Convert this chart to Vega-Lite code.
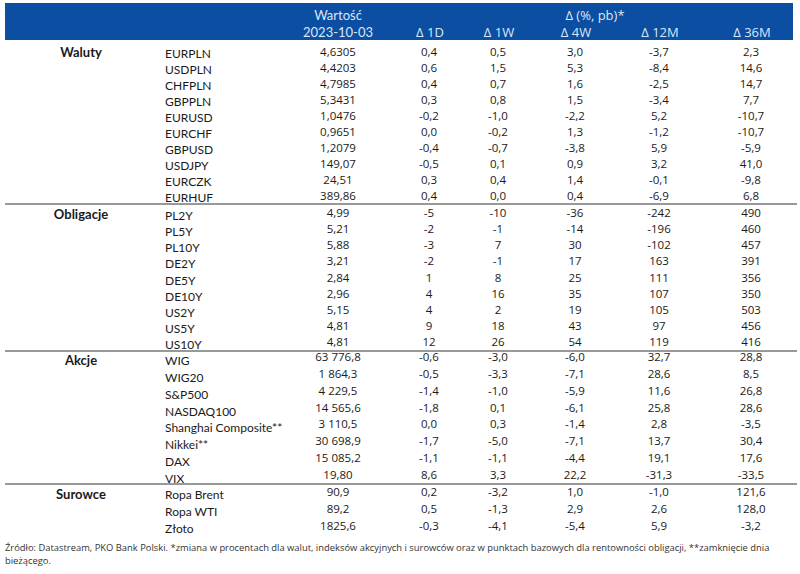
{
  "$schema": "https://vega.github.io/schema/vega-lite/v6.json",
  "width": 800,
  "height": 574,
  "autosize": {"type": "none"},
  "padding": 0,
  "background": "white",
  "config": {
    "view": {"stroke": null},
    "text": {"font": "Open Sans", "fontSize": 11.5, "color": "#1a1a1a", "baseline": "middle"}
  },
  "datasets": {
    "rows": [
      {"g": "Waluty", "name": "EURPLN", "v": "4,6305", "d1": "0,4", "d1w": "0,5", "d4w": "3,0", "d12": "-3,7", "d36": "2,3"},
      {"g": "Waluty", "name": "USDPLN", "v": "4,4203", "d1": "0,6", "d1w": "1,5", "d4w": "5,3", "d12": "-8,4", "d36": "14,6"},
      {"g": "Waluty", "name": "CHFPLN", "v": "4,7985", "d1": "0,4", "d1w": "0,7", "d4w": "1,6", "d12": "-2,5", "d36": "14,7"},
      {"g": "Waluty", "name": "GBPPLN", "v": "5,3431", "d1": "0,3", "d1w": "0,8", "d4w": "1,5", "d12": "-3,4", "d36": "7,7"},
      {"g": "Waluty", "name": "EURUSD", "v": "1,0476", "d1": "-0,2", "d1w": "-1,0", "d4w": "-2,2", "d12": "5,2", "d36": "-10,7"},
      {"g": "Waluty", "name": "EURCHF", "v": "0,9651", "d1": "0,0", "d1w": "-0,2", "d4w": "1,3", "d12": "-1,2", "d36": "-10,7"},
      {"g": "Waluty", "name": "GBPUSD", "v": "1,2079", "d1": "-0,4", "d1w": "-0,7", "d4w": "-3,8", "d12": "5,9", "d36": "-5,9"},
      {"g": "Waluty", "name": "USDJPY", "v": "149,07", "d1": "-0,5", "d1w": "0,1", "d4w": "0,9", "d12": "3,2", "d36": "41,0"},
      {"g": "Waluty", "name": "EURCZK", "v": "24,51", "d1": "0,3", "d1w": "0,4", "d4w": "1,4", "d12": "-0,1", "d36": "-9,8"},
      {"g": "Waluty", "name": "EURHUF", "v": "389,86", "d1": "0,4", "d1w": "0,0", "d4w": "0,4", "d12": "-6,9", "d36": "6,8"},
      {"g": "Obligacje", "name": "PL2Y", "v": "4,99", "d1": "-5", "d1w": "-10", "d4w": "-36", "d12": "-242", "d36": "490"},
      {"g": "Obligacje", "name": "PL5Y", "v": "5,21", "d1": "-2", "d1w": "-1", "d4w": "-14", "d12": "-196", "d36": "460"},
      {"g": "Obligacje", "name": "PL10Y", "v": "5,88", "d1": "-3", "d1w": "7", "d4w": "30", "d12": "-102", "d36": "457"},
      {"g": "Obligacje", "name": "DE2Y", "v": "3,21", "d1": "-2", "d1w": "-1", "d4w": "17", "d12": "163", "d36": "391"},
      {"g": "Obligacje", "name": "DE5Y", "v": "2,84", "d1": "1", "d1w": "8", "d4w": "25", "d12": "111", "d36": "356"},
      {"g": "Obligacje", "name": "DE10Y", "v": "2,96", "d1": "4", "d1w": "16", "d4w": "35", "d12": "107", "d36": "350"},
      {"g": "Obligacje", "name": "US2Y", "v": "5,15", "d1": "4", "d1w": "2", "d4w": "19", "d12": "105", "d36": "503"},
      {"g": "Obligacje", "name": "US5Y", "v": "4,81", "d1": "9", "d1w": "18", "d4w": "43", "d12": "97", "d36": "456"},
      {"g": "Obligacje", "name": "US10Y", "v": "4,81", "d1": "12", "d1w": "26", "d4w": "54", "d12": "119", "d36": "416"},
      {"g": "Akcje", "name": "WIG", "v": "63 776,8", "d1": "-0,6", "d1w": "-3,0", "d4w": "-6,0", "d12": "32,7", "d36": "28,8"},
      {"g": "Akcje", "name": "WIG20", "v": "1 864,3", "d1": "-0,5", "d1w": "-3,3", "d4w": "-7,1", "d12": "28,6", "d36": "8,5"},
      {"g": "Akcje", "name": "S&P500", "v": "4 229,5", "d1": "-1,4", "d1w": "-1,0", "d4w": "-5,9", "d12": "11,6", "d36": "26,8"},
      {"g": "Akcje", "name": "NASDAQ100", "v": "14 565,6", "d1": "-1,8", "d1w": "0,1", "d4w": "-6,1", "d12": "25,8", "d36": "28,6"},
      {"g": "Akcje", "name": "Shanghai Composite**", "v": "3 110,5", "d1": "0,0", "d1w": "0,3", "d4w": "-1,4", "d12": "2,8", "d36": "-3,5"},
      {"g": "Akcje", "name": "Nikkei**", "v": "30 698,9", "d1": "-1,7", "d1w": "-5,0", "d4w": "-7,1", "d12": "13,7", "d36": "30,4"},
      {"g": "Akcje", "name": "DAX", "v": "15 085,2", "d1": "-1,1", "d1w": "-1,1", "d4w": "-4,4", "d12": "19,1", "d36": "17,6"},
      {"g": "Akcje", "name": "VIX", "v": "19,80", "d1": "8,6", "d1w": "3,3", "d4w": "22,2", "d12": "-31,3", "d36": "-33,5"},
      {"g": "Surowce", "name": "Ropa Brent", "v": "90,9", "d1": "0,2", "d1w": "-3,2", "d4w": "1,0", "d12": "-1,0", "d36": "121,6"},
      {"g": "Surowce", "name": "Ropa WTI", "v": "89,2", "d1": "0,5", "d1w": "-1,3", "d4w": "2,9", "d12": "2,6", "d36": "128,0"},
      {"g": "Surowce", "name": "Złoto", "v": "1825,6", "d1": "-0,3", "d1w": "-4,1", "d4w": "-5,4", "d12": "5,9", "d36": "-3,2"}
    ]
  },
  "data": {"name": "rows"},
  "layer": [
    {
      "data": {"values": [{}]},
      "encoding": {
        "y": {"datum": 16, "type": "quantitative", "axis": null, "scale": {"domain": [0, 574], "range": [0, 574], "nice": false, "zero": false}}
      },
      "layer": [
        {"mark": {"type": "rect", "color": "#0b4ea2"},
         "encoding": {
           "x": {"datum": 5, "type": "quantitative", "axis": null, "scale": {"domain": [0, 800], "nice": false, "zero": false}},
           "x2": {"datum": 793},
           "y": {"datum": 3, "type": "quantitative"},
           "y2": {"datum": 40}}},
        {"mark": {"type": "text", "color": "#dbe7f5", "fontSize": 13, "font": "Lato"},
         "encoding": {"text": {"value": "Wartość"}, "x": {"datum": 338, "type": "quantitative"}, "y": {"datum": 16, "type": "quantitative"}}},
        {"mark": {"type": "text", "color": "#dbe7f5", "fontSize": 13, "font": "Lato"},
         "encoding": {"text": {"value": "2023-10-03"}, "x": {"datum": 338, "type": "quantitative"}, "y": {"datum": 33, "type": "quantitative"}}},
        {"mark": {"type": "text", "color": "#dbe7f5", "fontSize": 13},
         "encoding": {"text": {"value": "Δ (%, pb)*"}, "x": {"datum": 595, "type": "quantitative"}, "y": {"datum": 16, "type": "quantitative"}}},
        {"mark": {"type": "text", "color": "#dbe7f5", "fontSize": 13},
         "encoding": {"text": {"value": "Δ 1D"}, "x": {"datum": 430, "type": "quantitative"}, "y": {"datum": 33, "type": "quantitative"}}},
        {"mark": {"type": "text", "color": "#dbe7f5", "fontSize": 13},
         "encoding": {"text": {"value": "Δ 1W"}, "x": {"datum": 499, "type": "quantitative"}, "y": {"datum": 33, "type": "quantitative"}}},
        {"mark": {"type": "text", "color": "#dbe7f5", "fontSize": 13},
         "encoding": {"text": {"value": "Δ 4W"}, "x": {"datum": 576, "type": "quantitative"}, "y": {"datum": 33, "type": "quantitative"}}},
        {"mark": {"type": "text", "color": "#dbe7f5", "fontSize": 13},
         "encoding": {"text": {"value": "Δ 12M"}, "x": {"datum": 660, "type": "quantitative"}, "y": {"datum": 33, "type": "quantitative"}}},
        {"mark": {"type": "text", "color": "#dbe7f5", "fontSize": 13},
         "encoding": {"text": {"value": "Δ 36M"}, "x": {"datum": 752, "type": "quantitative"}, "y": {"datum": 33, "type": "quantitative"}}},
        {"mark": {"type": "text", "color": "#333333", "fontSize": 9.4, "align": "left", "lineHeight": 13},
         "encoding": {"text": {"value": ["Źródło: Datastream, PKO Bank Polski. *zmiana w procentach dla walut, indeksów akcyjnych i surowców oraz w punktach bazowych dla rentowności obligacji, **zamknięcie dnia", "bieżącego."]}, "x": {"datum": 5, "type": "quantitative"}, "y": {"datum": 548, "type": "quantitative"}}}
      ]
    },
    {
      "transform": [{"filter": {"field": "g", "equal": "Waluty"}}],
      "encoding": {"y": {"field": "name", "type": "nominal", "sort": null, "axis": null, "scale": {"type": "point", "range": [53, 197], "padding": 0}}},
      "layer": [
        {"mark": {"type": "text", "font": "Lato", "fontWeight": "bold", "fontSize": 13, "dy": 0},
         "encoding": {"text": {"condition": {"test": "datum.name === 'EURPLN'", "field": "g"}, "value": ""}, "x": {"datum": 81, "type": "quantitative"}}},
        {"mark": {"type": "text", "align": "left", "dy": 1, "font": "Lato", "fontSize": 12},
         "encoding": {"text": {"field": "name"}, "x": {"datum": 165, "type": "quantitative"}}},
        {"mark": {"type": "text"}, "encoding": {"text": {"field": "v"}, "x": {"datum": 338, "type": "quantitative"}}},
        {"mark": {"type": "text"}, "encoding": {"text": {"field": "d1"}, "x": {"datum": 429, "type": "quantitative"}}},
        {"mark": {"type": "text"}, "encoding": {"text": {"field": "d1w"}, "x": {"datum": 498, "type": "quantitative"}}},
        {"mark": {"type": "text"}, "encoding": {"text": {"field": "d4w"}, "x": {"datum": 575, "type": "quantitative"}}},
        {"mark": {"type": "text"}, "encoding": {"text": {"field": "d12"}, "x": {"datum": 659, "type": "quantitative"}}},
        {"mark": {"type": "text"}, "encoding": {"text": {"field": "d36"}, "x": {"datum": 751, "type": "quantitative"}}}
      ]
    },
    {
      "transform": [{"filter": {"field": "g", "equal": "Obligacje"}}],
      "encoding": {"y": {"field": "name", "type": "nominal", "sort": null, "axis": null, "scale": {"type": "point", "range": [214, 343], "padding": 0}}},
      "layer": [
        {"mark": {"type": "rule", "color": "#333333", "strokeWidth": 1, "yOffset": -10},
         "encoding": {"x": {"datum": 5, "type": "quantitative"}, "x2": {"datum": 797}, "strokeOpacity": {"condition": {"test": "datum.name === 'PL2Y'", "value": 1}, "value": 0}}},
        {"mark": {"type": "text", "font": "Lato", "fontWeight": "bold", "fontSize": 13, "dy": 1},
         "encoding": {"text": {"condition": {"test": "datum.name === 'PL2Y'", "field": "g"}, "value": ""}, "x": {"datum": 81, "type": "quantitative"}}},
        {"mark": {"type": "text", "align": "left", "dy": 2, "font": "Lato", "fontSize": 12},
         "encoding": {"text": {"field": "name"}, "x": {"datum": 165, "type": "quantitative"}}},
        {"mark": {"type": "text"}, "encoding": {"text": {"field": "v"}, "x": {"datum": 338, "type": "quantitative"}}},
        {"mark": {"type": "text"}, "encoding": {"text": {"field": "d1"}, "x": {"datum": 429, "type": "quantitative"}}},
        {"mark": {"type": "text"}, "encoding": {"text": {"field": "d1w"}, "x": {"datum": 498, "type": "quantitative"}}},
        {"mark": {"type": "text"}, "encoding": {"text": {"field": "d4w"}, "x": {"datum": 575, "type": "quantitative"}}},
        {"mark": {"type": "text"}, "encoding": {"text": {"field": "d12"}, "x": {"datum": 659, "type": "quantitative"}}},
        {"mark": {"type": "text"}, "encoding": {"text": {"field": "d36"}, "x": {"datum": 751, "type": "quantitative"}}}
      ]
    },
    {
      "transform": [{"filter": {"field": "g", "equal": "Akcje"}}],
      "encoding": {"y": {"field": "name", "type": "nominal", "sort": null, "axis": null, "scale": {"type": "point", "range": [358, 476], "padding": 0}}},
      "layer": [
        {"mark": {"type": "rule", "color": "#333333", "strokeWidth": 1, "yOffset": -7},
         "encoding": {"x": {"datum": 5, "type": "quantitative"}, "x2": {"datum": 797}, "strokeOpacity": {"condition": {"test": "datum.name === 'WIG'", "value": 1}, "value": 0}}},
        {"mark": {"type": "text", "font": "Lato", "fontWeight": "bold", "fontSize": 13, "dy": 3},
         "encoding": {"text": {"condition": {"test": "datum.name === 'WIG'", "field": "g"}, "value": ""}, "x": {"datum": 81, "type": "quantitative"}}},
        {"mark": {"type": "text", "align": "left", "dy": 3, "font": "Lato", "fontSize": 12},
         "encoding": {"text": {"field": "name"}, "x": {"datum": 165, "type": "quantitative"}}},
        {"mark": {"type": "text"}, "encoding": {"text": {"field": "v"}, "x": {"datum": 338, "type": "quantitative"}}},
        {"mark": {"type": "text"}, "encoding": {"text": {"field": "d1"}, "x": {"datum": 429, "type": "quantitative"}}},
        {"mark": {"type": "text"}, "encoding": {"text": {"field": "d1w"}, "x": {"datum": 498, "type": "quantitative"}}},
        {"mark": {"type": "text"}, "encoding": {"text": {"field": "d4w"}, "x": {"datum": 575, "type": "quantitative"}}},
        {"mark": {"type": "text"}, "encoding": {"text": {"field": "d12"}, "x": {"datum": 659, "type": "quantitative"}}},
        {"mark": {"type": "text"}, "encoding": {"text": {"field": "d36"}, "x": {"datum": 751, "type": "quantitative"}}}
      ]
    },
    {
      "transform": [{"filter": {"field": "g", "equal": "Surowce"}}],
      "encoding": {"y": {"field": "name", "type": "nominal", "sort": null, "axis": null, "scale": {"type": "point", "range": [493, 527], "padding": 0}}},
      "layer": [
        {"mark": {"type": "rule", "color": "#333333", "strokeWidth": 1, "yOffset": -9},
         "encoding": {"x": {"datum": 5, "type": "quantitative"}, "x2": {"datum": 797}, "strokeOpacity": {"condition": {"test": "datum.name === 'Ropa Brent'", "value": 1}, "value": 0}}},
        {"mark": {"type": "text", "font": "Lato", "fontWeight": "bold", "fontSize": 13, "dy": 2},
         "encoding": {"text": {"condition": {"test": "datum.name === 'Ropa Brent'", "field": "g"}, "value": ""}, "x": {"datum": 81, "type": "quantitative"}}},
        {"mark": {"type": "text", "align": "left", "dy": 2, "font": "Lato", "fontSize": 12},
         "encoding": {"text": {"field": "name"}, "x": {"datum": 165, "type": "quantitative"}}},
        {"mark": {"type": "text"}, "encoding": {"text": {"field": "v"}, "x": {"datum": 338, "type": "quantitative"}}},
        {"mark": {"type": "text"}, "encoding": {"text": {"field": "d1"}, "x": {"datum": 429, "type": "quantitative"}}},
        {"mark": {"type": "text"}, "encoding": {"text": {"field": "d1w"}, "x": {"datum": 498, "type": "quantitative"}}},
        {"mark": {"type": "text"}, "encoding": {"text": {"field": "d4w"}, "x": {"datum": 575, "type": "quantitative"}}},
        {"mark": {"type": "text"}, "encoding": {"text": {"field": "d12"}, "x": {"datum": 659, "type": "quantitative"}}},
        {"mark": {"type": "text"}, "encoding": {"text": {"field": "d36"}, "x": {"datum": 751, "type": "quantitative"}}}
      ]
    }
  ],
  "resolve": {"scale": {"y": "independent"}}
}
